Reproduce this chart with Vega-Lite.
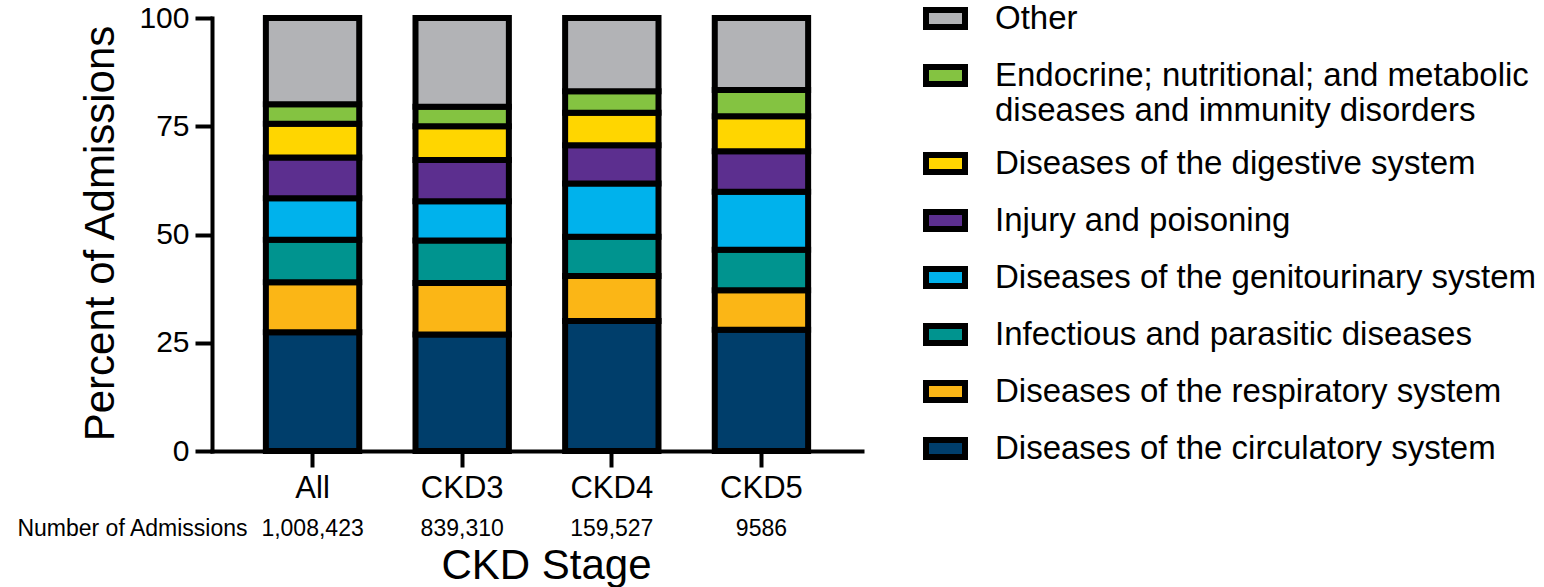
{
  "$schema": "https://vega.github.io/schema/vega-lite/v6.json",
  "width": 650,
  "height": 433,
  "autosize": "none",
  "padding": {"left": 212, "top": 18, "right": 682, "bottom": 136},
  "config": {
    "view": {"stroke": null},
    "font": "Liberation Sans",
    "axis": {"domainColor": "black", "tickColor": "black", "labelColor": "black", "titleColor": "black", "titleFontWeight": "normal", "grid": false, "labelFont": "Liberation Sans", "titleFont": "Liberation Sans"}
  },
  "layer": [
    {
      "data": {
        "values": [
          {"stage": "All", "category": "Diseases of the circulatory system", "pct": 27.4},
          {"stage": "All", "category": "Diseases of the respiratory system", "pct": 11.6},
          {"stage": "All", "category": "Infectious and parasitic diseases", "pct": 9.8},
          {"stage": "All", "category": "Diseases of the genitourinary system", "pct": 9.6},
          {"stage": "All", "category": "Injury and poisoning", "pct": 9.4},
          {"stage": "All", "category": "Diseases of the digestive system", "pct": 7.8},
          {"stage": "All", "category": "Endocrine; nutritional; and metabolic diseases and immunity disorders", "pct": 4.5},
          {"stage": "All", "category": "Other", "pct": 19.9},
          {"stage": "CKD3", "category": "Diseases of the circulatory system", "pct": 26.9},
          {"stage": "CKD3", "category": "Diseases of the respiratory system", "pct": 11.9},
          {"stage": "CKD3", "category": "Infectious and parasitic diseases", "pct": 9.8},
          {"stage": "CKD3", "category": "Diseases of the genitourinary system", "pct": 9.1},
          {"stage": "CKD3", "category": "Injury and poisoning", "pct": 9.5},
          {"stage": "CKD3", "category": "Diseases of the digestive system", "pct": 7.8},
          {"stage": "CKD3", "category": "Endocrine; nutritional; and metabolic diseases and immunity disorders", "pct": 4.5},
          {"stage": "CKD3", "category": "Other", "pct": 20.5},
          {"stage": "CKD4", "category": "Diseases of the circulatory system", "pct": 30.0},
          {"stage": "CKD4", "category": "Diseases of the respiratory system", "pct": 10.4},
          {"stage": "CKD4", "category": "Infectious and parasitic diseases", "pct": 9.1},
          {"stage": "CKD4", "category": "Diseases of the genitourinary system", "pct": 12.3},
          {"stage": "CKD4", "category": "Injury and poisoning", "pct": 8.8},
          {"stage": "CKD4", "category": "Diseases of the digestive system", "pct": 7.5},
          {"stage": "CKD4", "category": "Endocrine; nutritional; and metabolic diseases and immunity disorders", "pct": 5.0},
          {"stage": "CKD4", "category": "Other", "pct": 16.9},
          {"stage": "CKD5", "category": "Diseases of the circulatory system", "pct": 28.0},
          {"stage": "CKD5", "category": "Diseases of the respiratory system", "pct": 9.1},
          {"stage": "CKD5", "category": "Infectious and parasitic diseases", "pct": 9.4},
          {"stage": "CKD5", "category": "Diseases of the genitourinary system", "pct": 13.4},
          {"stage": "CKD5", "category": "Injury and poisoning", "pct": 9.3},
          {"stage": "CKD5", "category": "Diseases of the digestive system", "pct": 8.1},
          {"stage": "CKD5", "category": "Endocrine; nutritional; and metabolic diseases and immunity disorders", "pct": 6.1},
          {"stage": "CKD5", "category": "Other", "pct": 16.6}
        ]
      },
      "transform": [
        {"calculate": "indexof(['Diseases of the circulatory system','Diseases of the respiratory system','Infectious and parasitic diseases','Diseases of the genitourinary system','Injury and poisoning','Diseases of the digestive system','Endocrine; nutritional; and metabolic diseases and immunity disorders','Other'], datum.category)", "as": "stackRank"}
      ],
      "mark": {"type": "bar", "stroke": "black", "strokeWidth": 6, "strokeJoin": "miter"},
      "encoding": {
        "x": {
          "field": "stage", "type": "nominal", "sort": ["All", "CKD3", "CKD4", "CKD5"],
          "scale": {"type": "band", "paddingInner": 0.376, "paddingOuter": 0.36},
          "axis": {"labelAngle": 0, "labelFontSize": 31, "tickSize": 16, "tickWidth": 4, "domainWidth": 4, "domainCap": "square", "labelPadding": 30, "labelBaseline": "alphabetic", "title": "CKD Stage", "titleFontSize": 42, "titleX": 334, "titleY": 127, "titleAlign": "center", "titleBaseline": "alphabetic"}
        },
        "y": {
          "field": "pct", "type": "quantitative", "stack": "zero",
          "scale": {"domain": [0, 100], "nice": false},
          "axis": {"values": [0, 25, 50, 75, 100], "labelFontSize": 30, "tickSize": 17, "tickWidth": 4, "domainWidth": 4, "domainCap": "square", "labelPadding": 6, "title": "Percent of Admissions", "titleFontSize": 42, "titleX": -99, "titleY": 215, "titleAngle": -90, "titleAlign": "center", "titleBaseline": "alphabetic"}
        },
        "color": {
          "field": "category", "type": "nominal",
          "sort": ["Other", "Endocrine; nutritional; and metabolic diseases and immunity disorders", "Diseases of the digestive system", "Injury and poisoning", "Diseases of the genitourinary system", "Infectious and parasitic diseases", "Diseases of the respiratory system", "Diseases of the circulatory system"],
          "scale": {
            "domain": ["Other", "Endocrine; nutritional; and metabolic diseases and immunity disorders", "Diseases of the digestive system", "Injury and poisoning", "Diseases of the genitourinary system", "Infectious and parasitic diseases", "Diseases of the respiratory system", "Diseases of the circulatory system"],
            "range": ["#B2B3B6", "#84C341", "#FFD600", "#5C2F8F", "#00B2EC", "#00948F", "#FBB616", "#003E6B"]
          },
          "legend": {
            "title": null, "orient": "none", "legendX": 711, "legendY": -22, "padding": 0,
            "symbolType": "M-1,-0.436H1V0.436H-1Z", "symbolSize": 1521, "symbolStrokeColor": "black", "symbolStrokeWidth": 6, "symbolOpacity": 1,
            "labelFontSize": 33, "labelFont": "Liberation Sans", "labelColor": "black", "labelLimit": 700, "labelOffset": 27, "rowPadding": 13,
            "labelExpr": "indexof(datum.label, 'metabolic ') >= 0 ? ['Endocrine; nutritional; and metabolic', 'diseases and immunity disorders'] : datum.label"
          }
        },
        "order": {"field": "stackRank", "type": "quantitative", "sort": "ascending"}
      }
    },
    {
      "data": {
        "values": [
          {"stage": "All", "n": "1,008,423"},
          {"stage": "CKD3", "n": "839,310"},
          {"stage": "CKD4", "n": "159,527"},
          {"stage": "CKD5", "n": "9586"}
        ]
      },
      "mark": {"type": "text", "opacity": 0},
      "encoding": {
        "x": {
          "field": "n", "type": "nominal", "sort": null,
          "scale": {"type": "band", "paddingInner": 0.376, "paddingOuter": 0.36},
          "axis": {"orient": "bottom", "domain": false, "ticks": false, "tickSize": 0, "labelPadding": 84, "labelBaseline": "alphabetic", "labelFontSize": 23, "labelAngle": 0, "title": "Number of Admissions", "titleX": 35, "titleY": 84, "titleAlign": "right", "titleBaseline": "alphabetic", "titleAngle": 0, "titleFontSize": 23}
        },
        "text": {"field": "n"}
      }
    }
  ],
  "resolve": {"scale": {"x": "independent"}, "axis": {"x": "independent"}}
}
